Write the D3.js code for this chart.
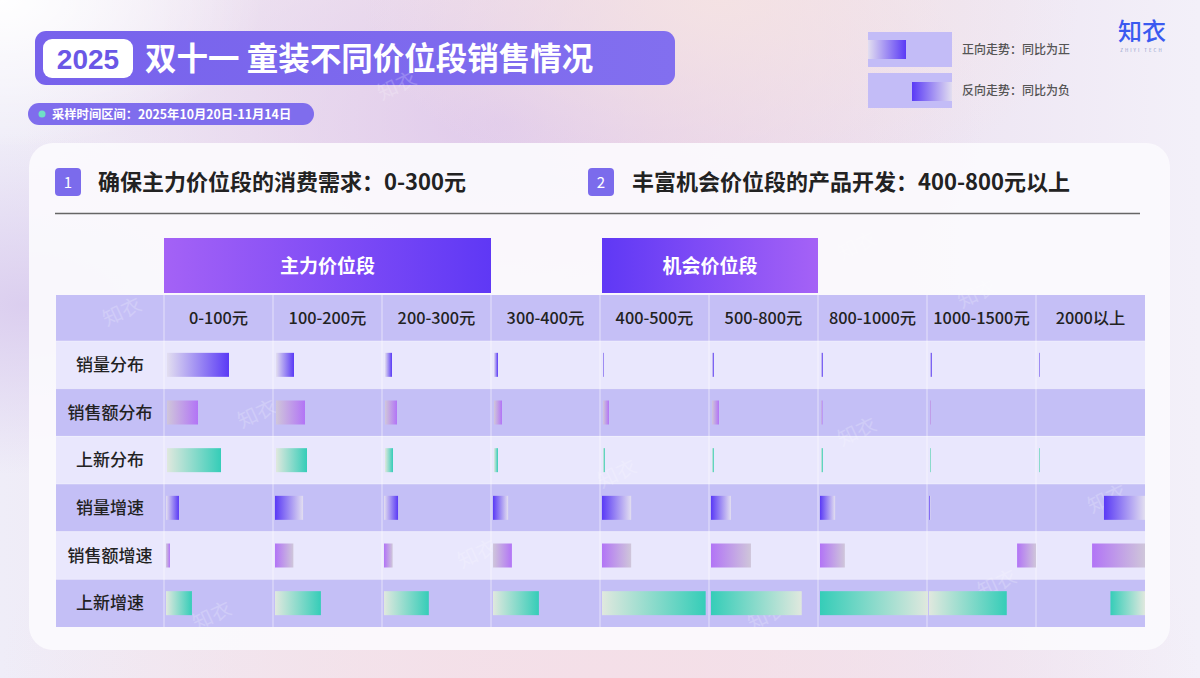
<!DOCTYPE html>
<html><head><meta charset="utf-8">
<script src="https://cdn.jsdelivr.net/npm/d3@7/dist/d3.min.js"></script>
<style>
html,body{margin:0;padding:0;width:1200px;height:678px;overflow:hidden;background:#f1ecf5;}
svg{display:block;}
text{font-family:"Noto Sans CJK SC","Noto Sans",sans-serif;}
</style>
</head><body>
<svg id="c" width="1200" height="678"></svg>
<script>
// ---------------- DATA ----------------
const priceBands = ["0-100元","100-200元","200-300元","300-400元","400-500元","500-800元","800-1000元","1000-1500元","2000以上"];
const metrics = ["销量分布","销售额分布","上新分布","销量增速","销售额增速","上新增速"];
// share of total (%)
const salesVolumeShare = [62, 18, 7, 4, 1, 2, 2, 2, 1];
const salesAmountShare = [31, 29, 12, 8, 6, 7, 1.5, 1, 0];
const newListingShare  = [54, 31, 8, 4, 2, 2, 2, 1, 1];
// year-on-year growth (relative index, sign = direction)
const salesVolumeGrowth = [12, -26, 13, -14, -27, -18.5, -14, -1.5, -38];
const salesAmountGrowth = [3.7, -17, -8, 17.5, -27, -37, -23, -17.5, -49];
const newListingGrowth  = [24, 42.5, 41.5, 42.5, 96, -84, -100, 72, -32];
// cells whose bars are drawn against the right edge of the cell
const rightAnchored = [["销量增速","2000以上"],["销售额增速","1000-1500元"],["销售额增速","2000以上"],["上新增速","2000以上"]];
const groupNames = ["主力价位段","机会价位段"];
const groupFrom  = ["0-100元","400-500元"];
const groupTo    = ["200-300元","500-800元"];
const titleYear = "2025";
const titleText = "双十一 童装不同价位段销售情况";
const periodText = "采样时间区间：2025年10月20日-11月14日";
const section1 = "确保主力价位段的消费需求：0-300元";
const section2 = "丰富机会价位段的产品开发：400-800元以上";
const legendTexts = ["正向走势：同比为正","反向走势：同比为负"];

// ---------------- SETUP ----------------
const svg = d3.select("#c");
const defs = svg.append("defs");

function lin(id, stops, x1=0,y1=0,x2=1,y2=0){
  const g = defs.append("linearGradient").attr("id",id).attr("x1",x1).attr("y1",y1).attr("x2",x2).attr("y2",y2);
  stops.forEach(s=>g.append("stop").attr("offset",s[0]).attr("stop-color",s[1]).attr("stop-opacity",s[2]==null?1:s[2]));
}
function rad(id, cx, cy, r, stops){
  const g = defs.append("radialGradient").attr("id",id).attr("cx",cx).attr("cy",cy).attr("r",r);
  stops.forEach(s=>g.append("stop").attr("offset",s[0]).attr("stop-color",s[1]).attr("stop-opacity",s[2]==null?1:s[2]));
}

// background
lin("bg",[[0,"#efedf8"],[0.3,"#f2e6ee"],[0.55,"#f3e0e6"],[0.8,"#eee6f3"],[1,"#f3f0f9"]]);
rad("glow1","0.42","0.18","0.4",[[0,"#dcc5ec",0.8],[1,"#dcc5ec",0]]);
rad("glow2","0.02","0.45","0.25",[[0,"#d9cbee",0.9],[1,"#d9cbee",0]]);
rad("glow3","0.5","1.0","0.5",[[0,"#f4dfe8",1],[1,"#f4dfe8",0]]);
rad("glow4","0.0","0.0","0.22",[[0,"#ffffff",1],[1,"#ffffff",0]]);
rad("glow5","0.6","0.0","0.3",[[0,"#f5e3e3",0.9],[1,"#f5e3e3",0]]);
["bg","glow1","glow2","glow3","glow4","glow5"].forEach(id=>
  svg.append("rect").attr("width",1200).attr("height",678).attr("fill",`url(#${id})`));

// bar palettes
const palettes = {
  vol:   {dark:"#5a3af6", light:"#e2def0"},
  amt:   {dark:"#b274f6", light:"#cfc6da"},
  fresh: {dark:"#35cdb8", light:"#e0e8de"}
};
Object.entries(palettes).forEach(([k,p])=>{
  lin("pos-"+k,[[0,p.light],[1,p.dark]]);
  lin("neg-"+k,[[0,p.dark],[1,p.light]]);
});
lin("grpA",[[0,"#a462f6"],[1,"#5f38f5"]]);
lin("grpB",[[0,"#5f38f5"],[1,"#a562f6"]]);
lin("banner",[[0,"#7762ec"],[1,"#826fef"]]);

// ---------------- HEADER ----------------
svg.append("rect").attr("x",35).attr("y",31).attr("width",640).attr("height",54).attr("rx",11).attr("fill","url(#banner)");
svg.append("rect").attr("x",43).attr("y",39).attr("width",90).attr("height",39).attr("rx",9).attr("fill","#ffffff");
svg.append("text").attr("x",88).attr("y",68.5).attr("text-anchor","middle").attr("font-size",28).attr("font-weight",700)
  .attr("fill","#6a57e6").style("font-family","'Liberation Sans',Arial,sans-serif").text(titleYear);
svg.append("text").attr("x",145).attr("y",70).attr("font-size",31.5).attr("font-weight",700).attr("fill","#ffffff").text(titleText);

svg.append("rect").attr("x",28).attr("y",103).attr("width",286).attr("height",22).attr("rx",11).attr("fill","#7f6ded");
svg.append("circle").attr("cx",42).attr("cy",114).attr("r",3.5).attr("fill","#6fe0c6");
svg.append("text").attr("x",52).attr("y",118.5).attr("font-size",12.3).attr("font-weight",700).attr("fill","#ffffff").text(periodText);

// legend
const legendY = [32, 73];
legendY.forEach((y,i)=>{
  svg.append("rect").attr("x",868).attr("y",y).attr("width",84).attr("height",35).attr("fill","#c3bcf7");
  svg.append("text").attr("x",962).attr("y",y+22).attr("font-size",12).attr("font-weight",500).attr("fill","#555").text(legendTexts[i]);
});
svg.append("rect").attr("x",868).attr("y",40).attr("width",38).attr("height",19).attr("fill","url(#pos-vol)");
svg.append("rect").attr("x",912).attr("y",82).attr("width",40).attr("height",19).attr("fill","url(#neg-vol)");

// logo
svg.append("text").attr("x",1142).attr("y",40).attr("text-anchor","middle").attr("font-size",24).attr("font-weight",500).attr("fill","#3a5af0").text("知衣");
svg.append("text").attr("x",1142).attr("y",52).attr("text-anchor","middle").attr("font-size",4.5).attr("letter-spacing",2).attr("fill","#8d98c8").text("ZHIYI TECH");

// ---------------- CARD ----------------
svg.append("rect").attr("x",29).attr("y",143).attr("width",1141).attr("height",507).attr("rx",24).attr("fill","#fbfafd").attr("opacity",0.93);

function badge(x,n){
  svg.append("rect").attr("x",x).attr("y",168).attr("width",26).attr("height",28).attr("rx",4).attr("fill","#7b6bec");
  svg.append("text").attr("x",x+13).attr("y",188).attr("text-anchor","middle").attr("font-size",15).attr("fill","#fff").text(n);
}
badge(55,"1"); badge(588,"2");
svg.append("text").attr("x",98).attr("y",190).attr("font-size",22).attr("font-weight",700).attr("fill","#222").text(section1);
svg.append("text").attr("x",632).attr("y",190).attr("font-size",22).attr("font-weight",700).attr("fill","#222").text(section2);
svg.append("line").attr("x1",55).attr("x2",1140).attr("y1",213.5).attr("y2",213.5).attr("stroke","#666").attr("stroke-width",1.3);

// ---------------- TABLE ----------------
const tableLeft = 56, tableRight = 1145;
const x = d3.scaleBand().domain(priceBands).range([164, tableRight]).padding(0);
const headerTop = 295, headerBottom = 341;
const y = d3.scaleBand().domain(metrics).range([headerBottom, 627]).padding(0);
const shareScale = d3.scaleLinear().domain([0,100]).range([0,100]);
const growthScale = d3.scaleLinear().domain([0,100]).range([0,x.bandwidth()-1]);

// group headers
groupNames.forEach((g,i)=>{
  const x0 = x(groupFrom[i]) + (i===1?2:0);
  const x1 = x(groupTo[i]) + x.bandwidth();
  svg.append("rect").attr("x",x0).attr("y",238).attr("width",x1-x0).attr("height",55).attr("fill",i===0?"url(#grpA)":"url(#grpB)");
  svg.append("text").attr("x",(x0+x1)/2).attr("y",273).attr("text-anchor","middle").attr("font-size",19).attr("font-weight",700).attr("fill","#fff").text(g);
});

// header row
svg.append("rect").attr("x",tableLeft).attr("y",headerTop).attr("width",tableRight-tableLeft).attr("height",headerBottom-headerTop).attr("fill","#c5bff6");
svg.append("g").selectAll("text").data(priceBands).join("text")
  .attr("x",d=>x(d)+x.bandwidth()/2).attr("y",(headerTop+headerBottom)/2+6)
  .attr("text-anchor","middle").attr("font-size",16.3).attr("font-weight",500).attr("fill","#222").text(d=>d);

// rows
const rowColors = ["#e9e7fd","#c4bff6"];
svg.append("g").selectAll("rect").data(metrics).join("rect")
  .attr("x",tableLeft).attr("y",d=>y(d)).attr("width",tableRight-tableLeft).attr("height",y.bandwidth())
  .attr("fill",(d,i)=>rowColors[i%2]);
svg.append("g").selectAll("text").data(metrics).join("text")
  .attr("x",(tableLeft+164)/2).attr("y",d=>y(d)+y.bandwidth()/2+6)
  .attr("text-anchor","middle").attr("font-size",17).attr("font-weight",500).attr("fill","#222").text(d=>d);

// dividers
const colEdges = [164].concat(priceBands.slice(1).map(d=>x(d)));
svg.append("g").selectAll("line").data(colEdges).join("line")
  .attr("x1",d=>d).attr("x2",d=>d).attr("y1",headerTop).attr("y2",627)
  .attr("stroke","#ffffff").attr("stroke-opacity",0.55).attr("stroke-width",1);
svg.append("g").selectAll("line").data(metrics).join("line")
  .attr("x1",tableLeft).attr("x2",tableRight).attr("y1",d=>y(d)).attr("y2",d=>y(d))
  .attr("stroke","#ffffff").attr("stroke-opacity",0.35).attr("stroke-width",1);

// watermarks
const wm = [[125,318],[215,622],[400,92],[860,252],[620,480],[770,622],[860,438],[1110,505],[260,420],[980,300],[1000,590],[480,560]];
svg.append("g").selectAll("text").data(wm).join("text")
  .attr("transform",d=>`translate(${d[0]},${d[1]}) rotate(-25)`)
  .attr("text-anchor","middle").attr("font-size",20).attr("fill","#ffffff").attr("opacity",0.2).text("知衣");

// bars
const series = [
  {metric:"销量分布", values:salesVolumeShare, pal:"vol", kind:"share"},
  {metric:"销售额分布", values:salesAmountShare, pal:"amt", kind:"share"},
  {metric:"上新分布", values:newListingShare, pal:"fresh", kind:"share"},
  {metric:"销量增速", values:salesVolumeGrowth, pal:"vol", kind:"growth"},
  {metric:"销售额增速", values:salesAmountGrowth, pal:"amt", kind:"growth"},
  {metric:"上新增速", values:newListingGrowth, pal:"fresh", kind:"growth"}
];
const rightSet = new Set(rightAnchored.map(d=>d[0]+"|"+d[1]));
const barH = 24, pad = 2;
const cells = [];
series.forEach(s=>{
  s.values.forEach((v,i)=>{
    if (v === 0) return;
    const band = priceBands[i];
    const w = s.kind==="share" ? shareScale(v) : growthScale(Math.abs(v));
    const right = rightSet.has(s.metric+"|"+band);
    const bx = right ? x(band)+x.bandwidth()-w : x(band)+(s.kind==="share"?3:pad);
    cells.push({metric:s.metric, band, v, w:Math.max(w,1), bx, fill:`url(#${v<0?"neg":"pos"}-${s.pal})`});
  });
});
svg.append("g").selectAll("rect").data(cells).join("rect")
  .attr("x",d=>d.bx).attr("y",d=>y(d.metric)+(y.bandwidth()-barH)/2)
  .attr("width",d=>d.w).attr("height",barH).attr("fill",d=>d.fill);
</script>
</body></html>
